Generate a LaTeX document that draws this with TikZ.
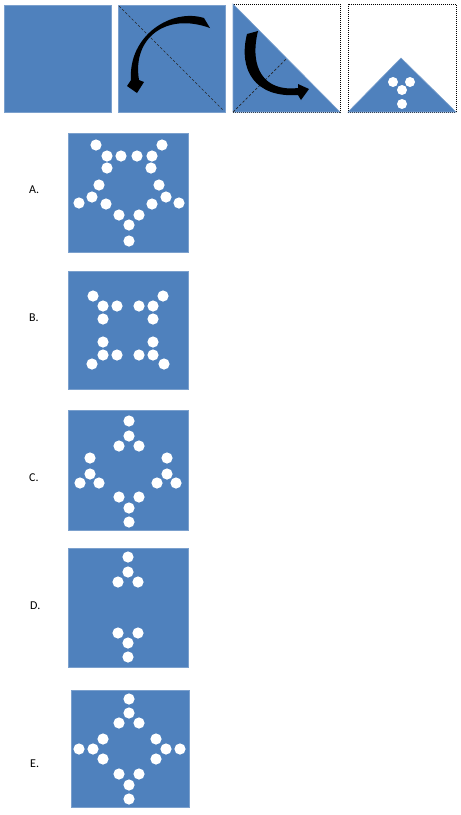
\documentclass[tikz,border=0pt]{standalone}
\usepackage{fontspec}
\setmainfont{Carlito}
\definecolor{blu}{HTML}{4F81BD}
\begin{document}
\begin{tikzpicture}[x=1pt,y=-1pt,
 sq/.style={fill=blu,draw=blu!75!white,line width=0.6pt},
 lab/.style={anchor=base west,inner sep=0pt,font=\fontsize{12}{14}\selectfont},
 fold/.style={draw=black!85,dash pattern=on 2.5pt off 2pt,line width=0.7pt},
 frame/.style={draw=black,dash pattern=on 1pt off 1pt,line width=1pt},
 bigarrow/.style={fill=black}]
\useasboundingbox (0,0) rectangle (461,815);
% top row
\path[sq] (4,5) rectangle (111,112);
\path[sq] (118,5) rectangle (225,112);
\draw[fold] (119,6) -- (224,111);
\fill[bigarrow] (204,18) .. controls (172,8) and (128,35) .. (131,80) -- (127,86) -- (137,93) -- (144,82) -- (139,80) .. controls (132,38) and (166,12) .. (210,28) -- cycle;
\path[frame] (233,4) rectangle (340,112);
\path[sq] (233,4) -- (233,112) -- (340,112) -- cycle;
\draw[fold] (233,112) -- (287,58);
\fill[bigarrow] (258,31) -- (247,34) .. controls (238,70) and (255,98) .. (298,95) -- (301,100) -- (309,89) -- (298,84) -- (298,88) .. controls (264,92) and (249,68) .. (258,31) -- cycle;
\path[frame] (348,4) rectangle (456,112);
\path[sq] (348,112) -- (401,58) -- (456,112) -- cycle;
\foreach \p in {(393,82),(410,82),(402,90),(402,104)} \fill[white] \p circle (5pt);
% options
\path[sq] (68,133) rectangle (188,252);
\foreach \p in {(96,145),(107,156),(121,156),(137,156),(152,156),(162,145),(107,168),(151,168),(99,185),(159,185),(92,197),(166,197),(79,203),(179,203),(106,204),(152,204),(119,215),(139,215),(129,225),(129,241)}
  \fill[white] \p circle (5.6pt);
\path[sq] (68,271) rectangle (188,389);
\foreach \p in {(93,296),(103,306),(117,306),(139,306),(153,306),(163,296),(103,319),(153,319),(103,342),(153,342),(103,355),(117,355),(139,355),(153,355),(92,364),(164,364)}
  \fill[white] \p circle (5.6pt);
\path[sq] (68,410) rectangle (188,530);
\foreach \p in {(129,421),(129,436),(119,446),(139,446),(90,458),(167,458),(90,474),(167,474),(80,483),(99,483),(157,483),(176,483),(119,497),(139,497),(129,508),(129,522)}
  \fill[white] \p circle (5.6pt);
\path[sq] (68,548) rectangle (188,667);
\foreach \p in {(128,557),(128,572),(118,582),(138,582),(118,633),(138,633),(128,643),(128,657)}
  \fill[white] \p circle (5.6pt);
\path[sq] (71,690) rectangle (189,807);
\foreach \p in {(129,699),(129,713),(119,723),(139,723),(103,739),(156,739),(79,749),(93,749),(166,749),(180,749),(103,759),(156,759),(119,774),(139,774),(129,785),(129,799)}
  \fill[white] \p circle (5.6pt);
% labels
\node[lab] (la) at (29,193) {A.};
\node[lab] (lb) at (29,321) {B.};
\node[lab] (lc) at (29,481) {C.};
\node[lab] (ld) at (30,609) {D.};
\node[lab] (le) at (30,767) {E.};
\end{tikzpicture}
\end{document}
